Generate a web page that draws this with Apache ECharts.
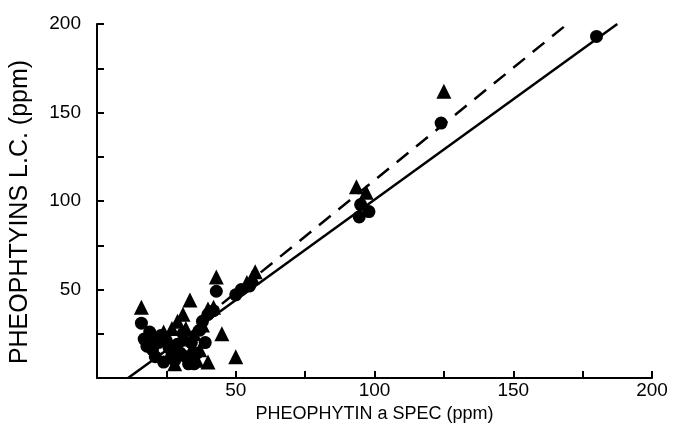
<!DOCTYPE html>
<html>
<head>
<meta charset="utf-8">
<script src="https://cdn.jsdelivr.net/npm/echarts@6/dist/echarts.min.js"></script>
<style>
  html, body { margin: 0; padding: 0; background: #fff; }
  #chart { width: 675px; height: 444px; }
</style>
</head>
<body>
<div id="chart"></div>
<script>
// Pheophytin a by spectrophotometry (x) vs pheophytins by L.C. (y), ppm
const xTitle = 'PHEOPHYTIN a SPEC (ppm)';
const yTitle = 'PHEOPHTYINS L.C. (ppm)';
const labelledTicks = [50, 100, 150, 200];

// Samples drawn as filled circles
const circlePoints = [
  [16, 31], [17, 22], [18, 18], [19, 26], [20, 16], [21, 12], [22, 20],
  [23, 24], [24, 9], [25, 21], [26, 17], [27, 15], [28, 10], [29, 19],
  [30, 14], [31, 25], [32, 12], [33, 8], [34, 20], [35, 8], [36, 14],
  [37, 27], [38, 32], [39, 20], [40, 36], [42, 38], [43, 49], [50, 47],
  [52, 50], [55, 52], [95, 98], [94.5, 91], [98, 94], [124, 144], [180, 193]
];

// Samples drawn as filled triangles
const trianglePoints = [
  [16, 40], [19, 24], [21, 21], [24, 26], [26, 13], [27, 28], [28, 8],
  [29, 32], [31, 36], [31, 22], [32, 28], [33.5, 44], [34, 16], [35, 25],
  [36, 10], [37, 16], [38, 30], [40, 9], [40, 39], [42, 40], [43, 57],
  [45, 25], [50, 12], [54, 54], [56, 57], [57, 60], [93.5, 108], [97, 105],
  [125, 162]
];

// Regression lines
const solidLine = [[11.2, 0], [187.5, 200]];
const dashedLine = [[38, 33], [169.5, 200]];

const fontFamily = '"Liberation Sans", Arial, sans-serif';
const black = '#000';

const axisCommon = {
  type: 'value',
  min: 0,
  max: 200,
  interval: 25,
  nameLocation: 'middle',
  axisLine: { show: true, onZero: false, lineStyle: { color: black, width: 2 } },
  axisTick: { show: true, inside: true, length: 7, lineStyle: { color: black, width: 2 } },
  splitLine: { show: false },
  axisLabel: {
    fontFamily, fontSize: 19, color: black,
    formatter: v => (labelledTicks.includes(v) ? String(v) : '')
  }
};

const chart = echarts.init(document.getElementById('chart'), null, { renderer: 'canvas' });
chart.setOption({
  animation: false,
  backgroundColor: '#fff',
  grid: { left: 97, right: 23, top: 24, bottom: 66, containLabel: false, outerBoundsMode: 'none' },
  xAxis: Object.assign({}, axisCommon, {
    name: xTitle,
    nameGap: 24,
    nameTextStyle: { fontFamily, fontSize: 18, color: black },
    axisLabel: Object.assign({}, axisCommon.axisLabel, { margin: 3 })
  }),
  yAxis: Object.assign({}, axisCommon, {
    name: yTitle,
    nameGap: 64,
    nameTextStyle: { fontFamily, fontSize: 25, color: black, padding: [0, 22, 0, 0] },
    axisLabel: Object.assign({}, axisCommon.axisLabel, { margin: 16 })
  }),
  series: [
    {
      type: 'line',
      data: solidLine,
      showSymbol: false,
      lineStyle: { color: black, width: 2.5 },
      z: 2
    },
    {
      type: 'line',
      data: dashedLine,
      showSymbol: false,
      lineStyle: { color: black, width: 2.5, type: [15, 10] },
      z: 2
    },
    {
      type: 'scatter',
      data: circlePoints,
      symbol: 'circle',
      symbolSize: 13,
      itemStyle: { color: black, opacity: 1 },
      z: 3
    },
    {
      type: 'scatter',
      data: trianglePoints,
      symbol: 'triangle',
      symbolSize: 15,
      itemStyle: { color: black, opacity: 1 },
      z: 3
    }
  ]
});
</script>
</body>
</html>
